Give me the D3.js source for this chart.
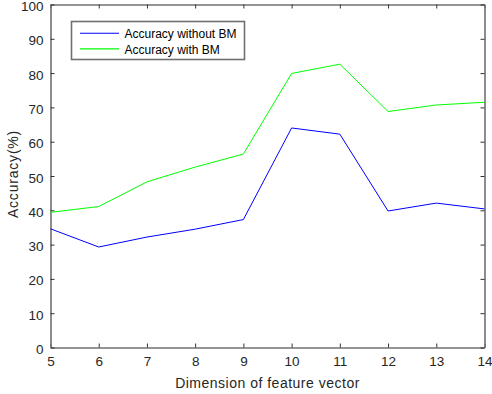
<!DOCTYPE html>
<html><head><meta charset="utf-8">
<script src="https://cdn.jsdelivr.net/npm/d3@7"></script>
<style>body{margin:0;background:#fff}svg{display:block;font-family:"Liberation Sans",Arial,sans-serif}</style>
</head><body><svg id="c" width="492" height="394"></svg>
<script>
const dims = [5,6,7,8,9,10,11,12,13,14];
const accWithout = [34.6,29.3,32.2,34.5,37.3,64.0,62.2,39.8,42.1,40.4];
const accWith = [39.4,41.1,48.3,52.6,56.4,79.9,82.6,68.8,70.7,71.5];
const xTicks = [5,6,7,8,9,10,11,12,13,14];
const yTicks = [0,10,20,30,40,50,60,70,80,90,100];
const seriesNames = ["Accuracy without BM","Accuracy with BM"];
const seriesColors = ["#0000ff","#00ff00"];

const svg = d3.select("#c");
const L=50.5, R=484.5, T=4.5, B=347.5;
const x = d3.scaleLinear().domain([5,14]).range([L,R]);
const y = d3.scaleLinear().domain([0,100]).range([B,T]);
const axisColor="#707070", textColor="#262626";

function styleAxis(g, showText){
  g.select(".domain").attr("stroke",axisColor).attr("stroke-width",1.6);
  g.selectAll(".tick line").attr("stroke","#333");
  g.selectAll(".tick text").attr("fill",textColor).style("font-size","13.5px")
    .style("display", showText?null:"none");
}
const gx = svg.append("g").attr("transform",`translate(0,${B})`)
  .call(d3.axisBottom(x).tickValues(xTicks).tickSizeInner(-4).tickSizeOuter(0).tickPadding(9).tickFormat(d3.format("d")));
styleAxis(gx,true);
const gxt = svg.append("g").attr("transform",`translate(0,${T})`)
  .call(d3.axisTop(x).tickValues(xTicks).tickSizeInner(-4).tickSizeOuter(0));
styleAxis(gxt,false);
const gy = svg.append("g").attr("transform",`translate(${L},0)`)
  .call(d3.axisLeft(y).tickValues(yTicks).tickSizeInner(-4).tickSizeOuter(0).tickPadding(7).tickFormat(d3.format("d")));
styleAxis(gy,true);
gy.selectAll(".tick text").attr("dy","0.45em");
const gyr = svg.append("g").attr("transform",`translate(${R},0)`)
  .call(d3.axisRight(y).tickValues(yTicks).tickSizeInner(-4).tickSizeOuter(0));
styleAxis(gyr,false);

const line = d3.line().x((d,i)=>x(dims[i])).y(d=>y(d));
[accWithout, accWith].forEach((s,k)=>{
  svg.append("path").datum(s).attr("d",line).attr("fill","none")
    .attr("stroke",seriesColors[k]).attr("stroke-width",1);
});

// legend
const lg = svg.append("g");
lg.append("rect").attr("x",71.5).attr("y",21.5).attr("width",173).attr("height",38)
  .attr("fill","#fff").attr("stroke",axisColor).attr("stroke-width",1.6);
seriesNames.forEach((n,k)=>{
  const yy = 33.3 + k*15.6;
  lg.append("line").attr("x1",80).attr("x2",119).attr("y1",yy).attr("y2",yy)
    .attr("stroke",seriesColors[k]).attr("stroke-width",1.1);
  lg.append("text").attr("x",124.5).attr("y",yy+4.9).text(n)
    .attr("fill","#000").style("font-size","12px");
});

svg.append("text").attr("x",(L+R)/2).attr("y",388).attr("text-anchor","middle")
  .attr("fill",textColor).style("font-size","14px").style("letter-spacing","0.5px").text("Dimension of feature vector");
svg.append("text").attr("transform",`translate(17.5,174) rotate(-90)`).attr("text-anchor","middle")
  .attr("fill",textColor).style("font-size","14px").style("letter-spacing","0.8px").text("Accuracy(%)");
</script></body></html>
